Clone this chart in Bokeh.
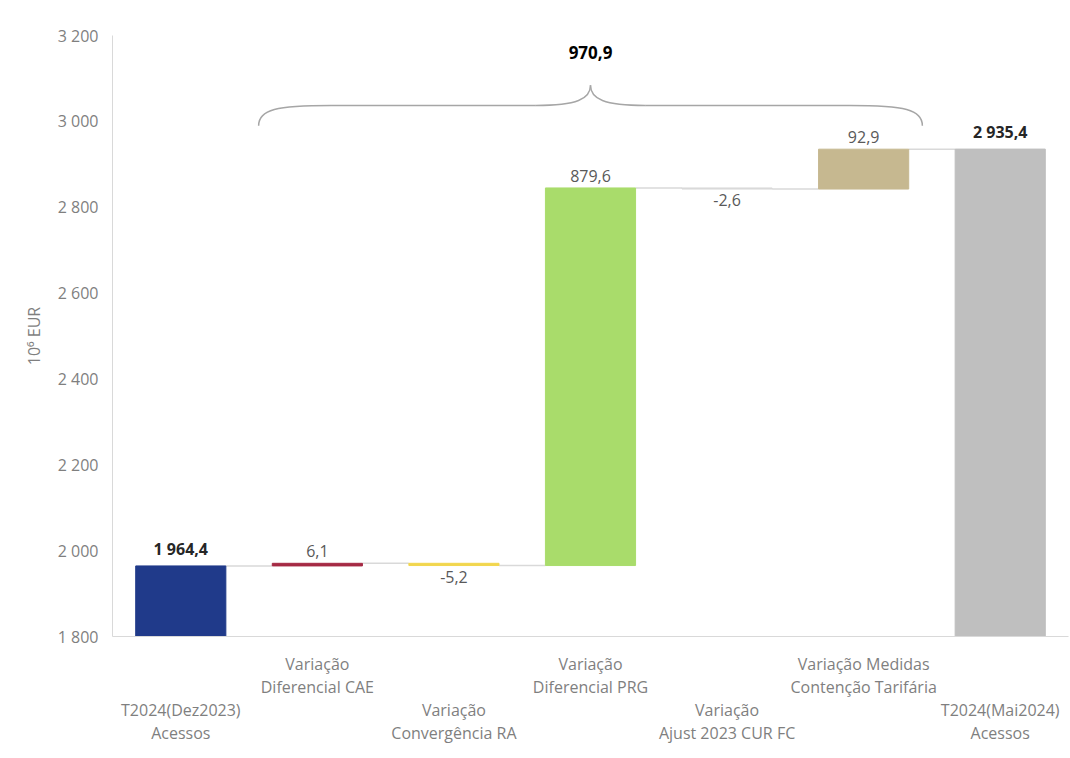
from bokeh.plotting import figure
from bokeh.models import FixedTicker, LinearAxis, Range1d, ColumnDataSource
from bokeh.core.properties import value
from bokeh.embed import file_html
from bokeh.resources import INLINE

# ---- data ----
categories = [
    "T2024(Dez2023)\nAcessos",
    "Variação\nDiferencial CAE",
    "Variação\nConvergência RA",
    "Variação\nDiferencial PRG",
    "Variação\nAjust 2023 CUR FC",
    "Variação Medidas\nContenção Tarifária",
    "T2024(Mai2024)\nAcessos",
]
start_value = 1964.4
deltas = [6.1, -5.2, 879.6, -2.6, 92.9]
end_value = 2935.4
total_variation = 970.9
value_labels = ["1 964,4", "6,1", "-5,2", "879,6", "-2,6", "92,9", "2 935,4"]
brace_label = "970,9"
bar_colors = ["#203A8A", "#A52A44", "#F2D64E", "#A9DC6B", "#D9D9D9", "#C6B890", "#BFBFBF"]
y_ticks = [1800, 2000, 2200, 2400, 2600, 2800, 3000, 3200]
y_tick_labels = ["1 800", "2 000", "2 200", "2 400", "2 600", "2 800", "3 000", "3 200"]
y_axis_title = "10⁶ EUR"

FONT = "Open Sans"
TXT = "#595959"
AX = "#7F7F7F"

n = len(categories)
xs = [i + 0.5 for i in range(n)]
base = y_ticks[0]

# waterfall geometry from the data
bottoms, tops, levels = [base], [start_value], [start_value]
run = start_value
for d in deltas:
    new = run + d
    bottoms.append(min(run, new))
    tops.append(max(run, new))
    levels.append(new)
    run = new
bottoms.append(base)
tops.append(end_value)
levels.append(end_value)
signs = [1] + [1 if d >= 0 else -1 for d in deltas] + [1]

p = figure(
    x_range=Range1d(0, n), y_range=Range1d(y_ticks[0], y_ticks[-1]),
    frame_width=956, frame_height=601,
    min_border_left=112, min_border_right=2, min_border_top=35, min_border_bottom=10,
    output_backend="svg", toolbar_location=None, x_axis_location=None,
)
p.outline_line_color = None
p.xgrid.visible = False
p.ygrid.visible = False
p.background_fill_color = "white"
p.border_fill_color = "white"

# y axis
ya = p.yaxis[0]
ya.ticker = FixedTicker(ticks=y_ticks)
ya.major_label_overrides = {t: l for t, l in zip(y_ticks, y_tick_labels)}
ya.major_tick_line_color = None
ya.minor_tick_line_color = None
ya.axis_line_color = "#D9D9D9"
ya.major_label_text_font = FONT
ya.major_label_text_font_size = "16px"
ya.major_label_text_color = AX
ya.major_label_standoff = 8
ya.axis_label = y_axis_title
ya.axis_label_text_font = FONT
ya.axis_label_text_font_size = "16px"
ya.axis_label_text_font_style = "normal"
ya.axis_label_text_color = AX
ya.axis_label_standoff = 10

# x axes (staggered labels)
odd_idx = [i for i in range(n) if i % 2 == 1]
even_idx = [i for i in range(n) if i % 2 == 0]
ax1 = LinearAxis(ticker=FixedTicker(ticks=[xs[i] for i in odd_idx]),
                 major_label_overrides={xs[i]: categories[i] for i in odd_idx})
ax2 = LinearAxis(ticker=FixedTicker(ticks=[xs[i] for i in even_idx]),
                 major_label_overrides={xs[i]: categories[i] for i in even_idx})
for ax in (ax1, ax2):
    ax.major_tick_line_color = None
    ax.minor_tick_line_color = None
    ax.major_label_text_font = FONT
    ax.major_label_text_font_size = "16px"
    ax.major_label_text_color = AX
    ax.major_label_text_line_height = 1.08
ax1.axis_line_color = "#D9D9D9"
ax1.major_label_standoff = 10
ax2.axis_line_color = None
ax2.major_label_standoff = -9
p.add_layout(ax1, "below")
p.add_layout(ax2, "below")

# connectors
cx0 = [xs[i] + 0.33 for i in range(n - 1)]
cx1 = [xs[i + 1] - 0.33 for i in range(n - 1)]
cy = levels[:-1]
p.segment(x0=cx0, y0=cy, x1=cx1, y1=cy, line_color="#D9D9D9", line_width=1.5)

# bars
src = ColumnDataSource(dict(x=xs, bottom=bottoms, top=tops, color=bar_colors))
p.vbar(x="x", bottom="bottom", top="top", width=0.66, fill_color="color", line_color="color", source=src)

# value labels
tot_idx = [0, n - 1]
pos_idx = [i for i in range(1, n - 1) if signs[i] > 0]
neg_idx = [i for i in range(1, n - 1) if signs[i] < 0]
p.text(x=[xs[i] for i in tot_idx], y=[tops[i] for i in tot_idx], text=[value_labels[i] for i in tot_idx],
       text_align="center", text_baseline="bottom", y_offset=-6,
       text_font=value(FONT), text_font_size="16px", text_font_style="bold", text_color="#262626")
p.text(x=[xs[i] for i in pos_idx], y=[tops[i] for i in pos_idx], text=[value_labels[i] for i in pos_idx],
       text_align="center", text_baseline="bottom", y_offset=-6,
       text_font=value(FONT), text_font_size="16px", text_color=TXT)
p.text(x=[xs[i] for i in neg_idx], y=[bottoms[i] for i in neg_idx], text=[value_labels[i] for i in neg_idx],
       text_align="center", text_baseline="top", y_offset=5,
       text_font=value(FONT), text_font_size="16px", text_color=TXT)

# brace over the variations
bl, br, bm = 1.07, 5.93, 3.5
y_end, y_mid, y_peak = 2990, 3037, 3084
bc = "#A6A6A6"
p.bezier(x0=[bl, br], y0=[y_end, y_end], x1=[1.6, 5.4], y1=[y_mid, y_mid],
         cx0=[bl, br], cy0=[3028, 3028], cx1=[1.2, 5.8], cy1=[y_mid, y_mid],
         line_color=bc, line_width=1.5)
p.segment(x0=[1.6, 3.9], y0=[y_mid, y_mid], x1=[3.1, 5.4], y1=[y_mid, y_mid], line_color=bc, line_width=1.5)
p.bezier(x0=[3.1, 3.9], y0=[y_mid, y_mid], x1=[bm, bm], y1=[y_peak, y_peak],
         cx0=[3.4, 3.6], cy0=[y_mid, y_mid], cx1=[bm, bm], cy1=[3052, 3052],
         line_color=bc, line_width=1.5)
p.text(x=[bm], y=[3160], text=[brace_label], text_align="center", text_baseline="middle",
       text_font=value(FONT), text_font_size="17px", text_font_style="bold", text_color="#000000")

open("out.html", "w").write(file_html(p, INLINE))
